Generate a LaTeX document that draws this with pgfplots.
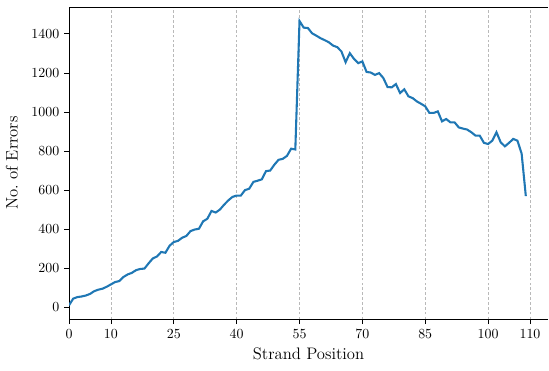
\documentclass[border=0pt]{standalone}
\usepackage{pgfplots}
\pgfplotsset{compat=1.18}
\definecolor{c0}{HTML}{1F77B4}
\begin{document}
\begin{tikzpicture}
\begin{axis}[
  scale only axis,
  width=345pt, height=225pt,
  separate axis lines,
  axis x line*=box,
  axis y line*=left,
  axis line style={-, black, line width=0.6pt},
  xmin=0, xmax=114.3,
  ymin=-62, ymax=1538,
  xtick={0,10,25,40,55,70,85,100,110},
  ytick={0,200,400,600,800,1000,1200,1400},
  /pgf/number format/1000 sep={},
  tick align=outside,
  major tick length=3.5pt,
  tick style={black, line width=0.6pt},
  xtick pos=bottom, ytick pos=left,
  xmajorgrids,
  grid style={gray!55, line width=0.5pt, dash pattern=on 2pt off 1.5pt},
  tick label style={font=\normalsize},
  xlabel={Strand Position}, ylabel={No.\ of Errors},
  label style={font=\large},
  xlabel style={yshift=0pt},
  ylabel style={yshift=3pt},
]
\addplot[c0, line width=1.5pt, mark=none] coordinates {
(0,10)(1,44)(2,52)(3,55)(4,60)(5,68)(6,82)(7,90)(8,95)(9,105)
(10,117)(11,129)(12,134)(13,155)(14,168)(15,176)(16,190)(17,196)(18,198)(19,225)
(20,250)(21,260)(22,283)(23,279)(24,315)(25,334)(26,340)(27,356)(28,365)(29,390)
(30,398)(31,402)(32,440)(33,453)(34,493)(35,485)(36,500)(37,525)(38,547)(39,565)
(40,572)(41,572)(42,600)(43,607)(44,642)(45,648)(46,655)(47,697)(48,700)(49,730)
(50,755)(51,760)(52,775)(53,812)(54,808)(55,1466)(56,1432)(57,1430)(58,1403)(59,1391)
(60,1378)(61,1368)(62,1357)(63,1340)(64,1332)(65,1310)(66,1255)(67,1301)(68,1272)(69,1250)
(70,1259)(71,1205)(72,1202)(73,1190)(74,1199)(75,1174)(76,1128)(77,1126)(78,1143)(79,1097)
(80,1116)(81,1080)(82,1071)(83,1054)(84,1042)(85,1029)(86,995)(87,995)(88,1003)(89,952)
(90,964)(91,947)(92,947)(93,921)(94,915)(95,910)(96,896)(97,879)(98,879)(99,842)
(100,836)(101,853)(102,896)(103,845)(104,824)(105,842)(106,862)(107,853)(108,787)(109,569)
};
\end{axis}
\pgfresetboundingbox
\path ([shift={(-49.7pt,-36.7pt)}]current axis.south west) rectangle ([shift={(0.7pt,5pt)}]current axis.north east);
\end{tikzpicture}
\end{document}
